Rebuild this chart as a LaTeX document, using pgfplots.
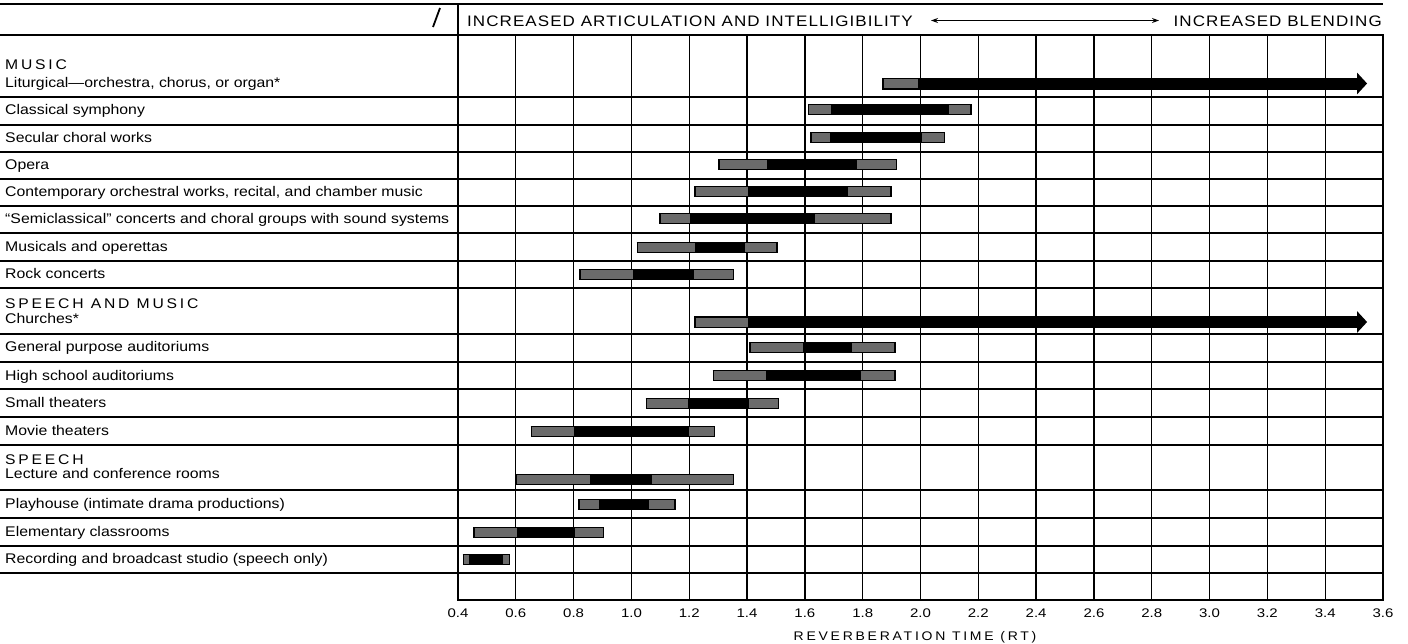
\documentclass[border=0pt]{standalone}
\usepackage{fontspec}
\setmainfont[FakeStretch=1.13]{Liberation Sans}
\newfontfamily\capsfont[FakeStretch=1.12,LetterSpace=20]{Liberation Sans}
\newfontfamily\headfont[FakeStretch=1.12,LetterSpace=7]{Liberation Sans}
\newfontfamily\xlabfont[FakeStretch=1.12,LetterSpace=22]{Liberation Sans}
\newfontfamily\tickfont[FakeStretch=1.2]{Liberation Sans}
\usepackage{pgfplots}
\usepackage{pgfplotstable}
\pgfplotsset{compat=1.18}
\usetikzlibrary{arrows.meta}

% black bars: x = reverberation time, y = row position
\pgfplotstableread{
x y
1.61 490.5
2.177 490.5
nan nan
1.618 462.5
2.085 462.5
nan nan
1.30 435.5
1.92 435.5
nan nan
1.218 408.5
1.90 408.5
nan nan
1.096 381.5
1.90 381.5
nan nan
1.018 353
1.506 353
nan nan
0.82 326
1.355 326
nan nan
1.408 253
1.915 253
nan nan
1.281 224.5
1.915 224.5
nan nan
1.049 197
1.511 197
nan nan
0.651 169
1.289 169
nan nan
0.60 120.5
1.355 120.5
nan nan
0.816 96
1.153 96
nan nan
0.453 68
0.905 68
nan nan
0.416 41
0.58 41
}\blackbars

% shaded end segments
\pgfplotstableread{
x y
1.872 516.5
1.99 516.5
nan nan
1.615 490.5
1.69 490.5
nan nan
2.10 490.5
2.172 490.5
nan nan
1.623 462.5
1.687 462.5
nan nan
2.005 462.5
2.08 462.5
nan nan
1.305 435.5
1.468 435.5
nan nan
1.779 435.5
1.915 435.5
nan nan
1.223 408.5
1.404 408.5
nan nan
1.75 408.5
1.895 408.5
nan nan
1.101 381.5
1.203 381.5
nan nan
1.635 381.5
1.895 381.5
nan nan
1.023 353
1.22 353
nan nan
1.393 353
1.501 353
nan nan
0.825 326
1.004 326
nan nan
1.218 326
1.35 326
nan nan
1.223 278
1.404 278
nan nan
1.413 253
1.595 253
nan nan
1.764 253
1.91 253
nan nan
1.286 224.5
1.466 224.5
nan nan
1.793 224.5
1.91 224.5
nan nan
1.054 197
1.197 197
nan nan
1.408 197
1.506 197
nan nan
0.656 169
0.802 169
nan nan
1.20 169
1.284 169
nan nan
0.605 120.5
0.857 120.5
nan nan
1.07 120.5
1.35 120.5
nan nan
0.821 96
0.889 96
nan nan
1.062 96
1.148 96
nan nan
0.458 68
0.605 68
nan nan
0.805 68
0.90 68
nan nan
0.421 41
0.439 41
nan nan
0.555 41
0.575 41
}\graysegs

\begin{document}
\begin{tikzpicture}
\begin{axis}[
  at={(458pt,-600pt)}, anchor=south west,
  width=925pt, height=565pt, scale only axis,
  xmin=0.4, xmax=3.6, ymin=0, ymax=565,
  xtick={0.4,0.6,0.8,1.0,1.2,1.4,1.6,1.8,2.0,2.2,2.4,2.6,2.8,3.0,3.2,3.4,3.6},
  xticklabels={0.4,0.6,0.8,1.0,1.2,1.4,1.6,1.8,2.0,2.2,2.4,2.6,2.8,3.0,3.2,3.4,3.6},
  ytick={503,475,448,421,394,367,339,312,266,238,211,183,155,110,82,54,27},
  yticklabel=\empty,
  grid=major,
  major grid style={black, line width=1.3pt},
  major tick length=0pt,
  axis line style={black, line width=1.4pt},
  xticklabel style={font=\tickfont\fontsize{12.5}{14}\selectfont, yshift=-5pt},
  clip=false,
  unbounded coords=jump,
]
\addplot[black, line width=11pt, line cap=butt] table[x=x,y=y] {\blackbars};
\addplot[black, line width=12pt, -{Triangle[length=10pt 0 0,width=21pt 0 0]}] coordinates {(1.867,516.5) (3.545,516.5)};
\addplot[black, line width=12pt, -{Triangle[length=10pt 0 0,width=21pt 0 0]}] coordinates {(1.218,278) (3.545,278)};
\addplot[black!58, line width=9pt, line cap=butt] table[x=x,y=y] {\graysegs};
\end{axis}

\begin{scope}[x=1pt,y=-1pt]
 % table rules in the label column and header
 \draw[line width=1.4pt] (0,4) -- (1383,4);
 \draw[line width=1.4pt] (0,35) -- (1383,35);
 \draw[line width=1.4pt] (458,4) -- (458,35);
 \foreach \yy in {97,125,152,179,206,233,261,288,334,362,389,417,445,490,518,546,573}
   \draw[line width=1.3pt] (0,\yy) -- (458,\yy);
 \draw[line width=1.8pt] (433,27) -- (440,8);
 % header
 \node[anchor=base west, inner sep=0] at (467,26.5) {\headfont\fontsize{15.2}{17}\selectfont INCREASED ARTICULATION AND INTELLIGIBILITY};
 \node[anchor=base east, inner sep=0] at (1382,26.5) {\headfont\fontsize{15.2}{17}\selectfont INCREASED BLENDING};
 \draw[line width=1.3pt, {Stealth[length=7pt,width=5pt]}-{Stealth[length=7pt,width=5pt]}] (931,20.5) -- (1159,20.5);
 % row labels
 \begin{scope}[every node/.style={anchor=base west, inner sep=0, font=\fontsize{14}{16}\selectfont}]
 \node at (5,69) {\capsfont MUSIC};
 \node at (5,87) {Liturgical---orchestra, chorus, or organ*};
 \node at (5,114.5) {Classical symphony};
 \node at (5,142) {Secular choral works};
 \node at (5,169) {Opera};
 \node at (5,196) {Contemporary orchestral works, recital, and chamber music};
 \node at (5,223) {``Semiclassical'' concerts and choral groups with sound systems};
 \node at (5,251.5) {Musicals and operettas};
 \node at (5,278.5) {Rock concerts};
 \node at (5,308) {\capsfont SPEECH AND MUSIC};
 \node at (5,323) {Churches*};
 \node at (5,351.5) {General purpose auditoriums};
 \node at (5,380) {High school auditoriums};
 \node at (5,407.5) {Small theaters};
 \node at (5,435) {Movie theaters};
 \node at (5,464) {\capsfont SPEECH};
 \node at (5,478.5) {Lecture and conference rooms};
 \node at (5,508) {Playhouse (intimate drama productions)};
 \node at (5,536) {Elementary classrooms};
 \node at (5,563.5) {Recording and broadcast studio (speech only)};
 \end{scope}
 % axis title
 \node[anchor=base, inner sep=0] at (915,640) {\xlabfont\fontsize{12.5}{14}\selectfont REVERBERATION TIME (RT)};
\end{scope}
\pgfresetboundingbox
\path[use as bounding box] (0pt,0pt) rectangle (1408pt,-643pt);
\end{tikzpicture}
\end{document}
